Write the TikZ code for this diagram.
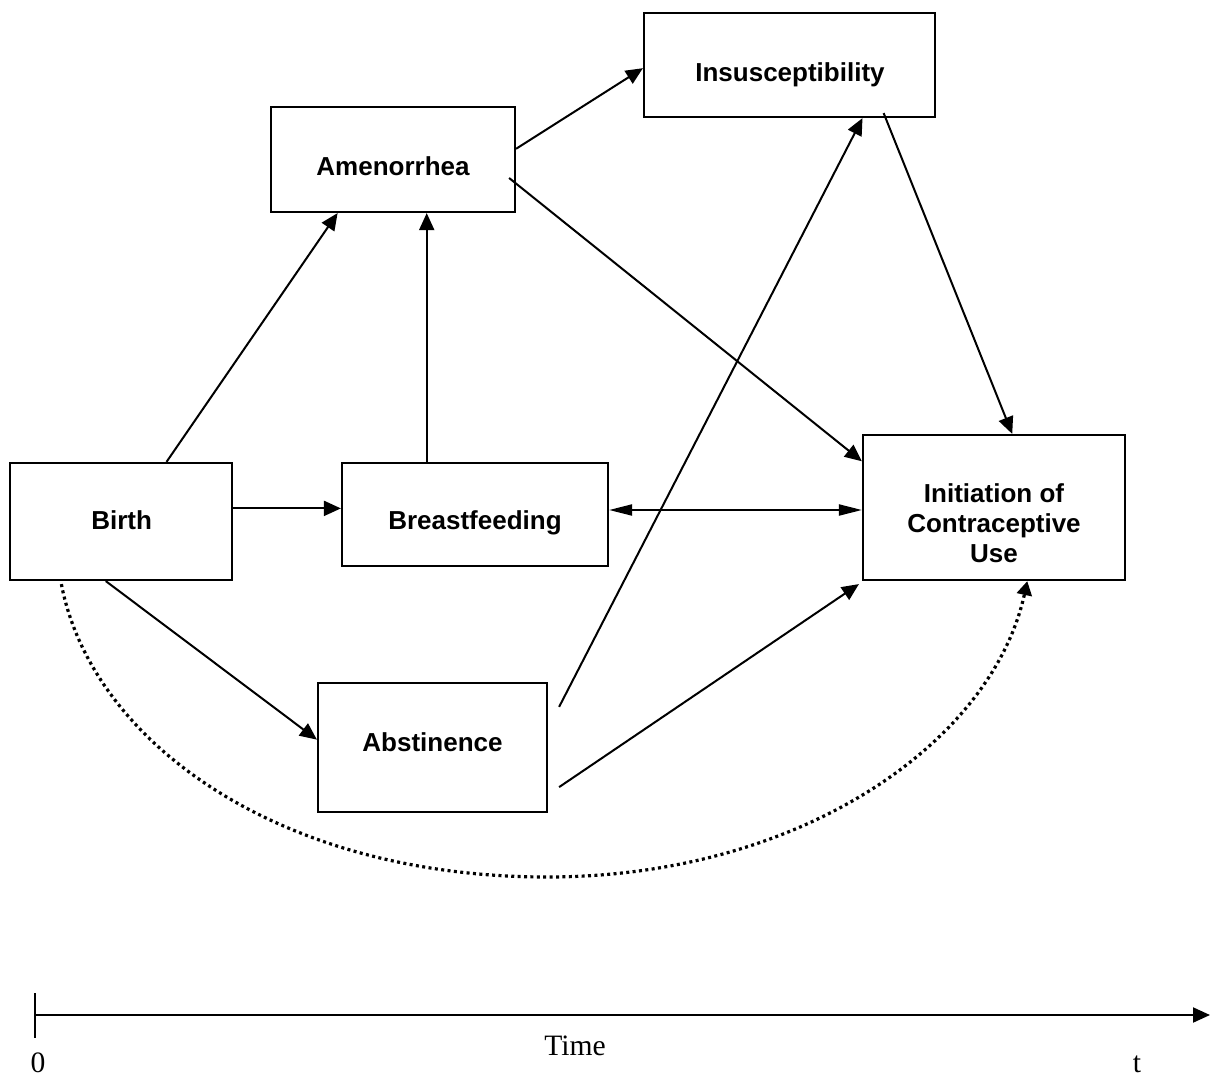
\documentclass[tikz,border=0pt]{standalone}
\usepackage{fontspec}
\setmainfont{Liberation Sans}
\newfontfamily\tmsfont{Liberation Serif}
\usetikzlibrary{arrows.meta,calc}
\begin{document}
\begin{tikzpicture}[x=1pt,y=-1pt,
  box/.style={draw,line width=2.2pt,rectangle,inner sep=0pt},
  lbl/.style={font=\fontsize{26}{30}\selectfont\bfseries,anchor=base,inner sep=0pt},
  conn/.style={line width=2pt,-{Triangle[length=17pt,width=15pt]}},
  bidir/.style={line width=2pt,{Triangle[length=23pt,width=11pt]}-{Triangle[length=23pt,width=11pt]}},
  dotline/.style={line width=3.2pt,dash pattern=on 3pt off 3.4pt,-{Triangle[length=14pt,width=15pt]}},
  tm/.style={font=\tmsfont\fontsize{29.6}{32}\selectfont,anchor=base,inner sep=0pt}]
\useasboundingbox (0,0) rectangle (1215,1078);

% boxes
\node[box,minimum width=291pt,minimum height=104pt] (ins) at (789.5,65) {};
\node[box,minimum width=244pt,minimum height=105pt] (amen) at (393,159.5) {};
\node[box,minimum width=222pt,minimum height=117pt] (birth) at (121,521.5) {};
\node[box,minimum width=266pt,minimum height=103pt] (breast) at (475,514.5) {};
\node[box,minimum width=262pt,minimum height=145pt] (init) at (994,507.5) {};
\node[box,minimum width=229pt,minimum height=129pt] (abst) at (432.5,747.5) {};

% labels
\node[lbl] (ins-t) at (790,82) {Insusceptibility};
\node[lbl] (amen-t) at (393,176) {Amenorrhea};
\node[lbl] (birth-t) at (121.7,529) {Birth};
\node[lbl] (breast-t) at (475,529) {Breastfeeding};
\node[lbl] (abst-t) at (432.5,751) {Abstinence};
\node[lbl] (init-t1) at (994,502) {Initiation of};
\node[lbl] (init-t2) at (994,532) {Contraceptive};
\node[lbl] (init-t3) at (994,562) {Use};

% connectors
\draw[conn] ($(birth.north west)!0.703!(birth.north east)$) -- ($(amen.south west)!0.275!(amen.south east)$);
\draw[conn] ($(birth.north east)!0.39!(birth.south east)$) coordinate (bb) -- (bb -| breast.west);
\draw[conn] ($(breast.north west)!0.32!(breast.north east)$) coordinate (ba) -- (ba |- amen.south);
\draw[conn] ($(amen.north east)!0.4!(amen.south east)$) -- ($(ins.north west)!0.53!(ins.south west)$);
\draw[conn] ($(amen.east)+(-7,18.5)$) -- ($(init.north west)!0.186!(init.south west)$);
\draw[conn] ($(abst.north east)+(11,25)$) -- ($(ins.south west)!0.749!(ins.south east)$);
\draw[conn] ($(ins.south west)!0.821!(ins.south east)+(0,-5)$) -- ($(init.north west)!0.569!(init.north east)$);
\draw[bidir] ($(breast.east)+(0,-4.5)$) coordinate (bi) -- (bi -| init.west);
\draw[conn] ($(birth.south west)!0.432!(birth.south east)$) -- ($(abst.north west)!0.44!(abst.south west)$);
\draw[conn] ($(abst.south east)+(11,-26)$) -- ($(init.south west)+(-3,3)$);

% dotted curve
\coordinate (ds) at ($(birth.south west)!0.234!(birth.south east)+(0,3)$);
\coordinate (de) at ($(init.south west)!0.626!(init.south east)$);
\coordinate (dm) at (547,877);
\draw[dotline] (ds) .. controls (92,743) and (280,877) .. (dm) .. controls (800,877) and (992,743) .. (de);

% time axis
\coordinate (t0) at (35,1015);
\coordinate (t1) at (1210,1015);
\coordinate (tk0) at (35,993);
\coordinate (tk1) at (35,1038);
\draw[line width=2pt] (tk0) -- (tk1);
\draw[conn] (t0) -- (t1);
\node[tm] (zero) at (38,1072) {0};
\node[tm] (time) at (575,1055) {Time};
\node[tm] (tend) at (1137,1072) {t};
\end{tikzpicture}
\end{document}
